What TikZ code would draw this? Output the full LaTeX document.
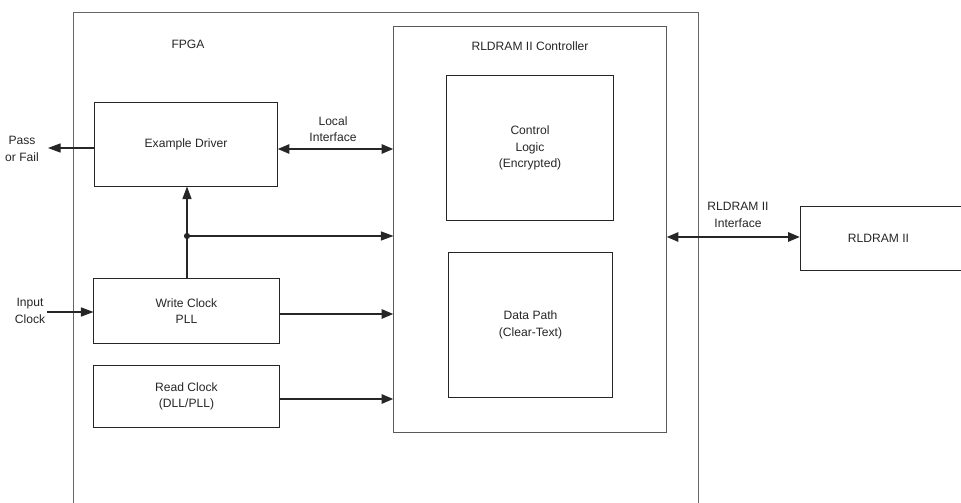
\documentclass[tikz,border=0pt]{standalone}
\usepackage{fontspec}
\setmainfont{Liberation Sans}
\usepackage{tikz}
\usetikzlibrary{arrows.meta, positioning}

\tikzset{
  blk/.style={draw=black!85, line width=0.7pt, align=center, inner sep=0pt},
  lbl/.style={align=center, inner sep=1pt, text=black!85},
  thin/.style={line width=0.8pt, draw=black!85, -{Triangle[length=9pt,width=6.5pt]}},
  fat/.style={line width=1.8pt, draw=black!85, -{Triangle[length=8.5pt,width=6.5pt]}},
  fatboth/.style={line width=1.8pt, draw=black!85, {Triangle[length=8.5pt,width=6.5pt]}-{Triangle[length=8.5pt,width=6.5pt]}}
}

\begin{document}
\begin{tikzpicture}[x=0.025cm, y=-0.025cm, font=\fontsize{8.6}{11.8}\selectfont, text=black!85]
\useasboundingbox (0,0) rectangle (961,503);

% FPGA (open at the bottom)
\draw[black!60, line width=0.7pt] (73,510) -- (73,12) -- (698,12) -- (698,510);
\node[lbl] (fpga) at (188,44) {FPGA};

% Controller
\node[blk, draw=black!65, minimum width=6.8cm, minimum height=10.125cm] (ctrl) at (530,229.5) {};
\node[lbl] (ctrltxt) at (530,46) {RLDRAM II Controller};
\node[blk, minimum width=4.15cm, minimum height=3.6cm] (logic) at (530,148) {Control\\Logic\\(Encrypted)};
\node[blk, minimum width=4.075cm, minimum height=3.6cm] (dpath) at (530.5,325) {Data Path\\(Clear-Text)};

% Left blocks
\node[blk, minimum width=4.55cm, minimum height=2.075cm] (drv) at (186,144.5) {Example Driver};
\node[blk, minimum width=4.625cm, minimum height=1.6cm] (wclk) at (186.5,311) {Write Clock\\PLL};
\node[blk, minimum width=4.625cm, minimum height=1.525cm] (rclk) at (186.5,396.5) {Read Clock\\(DLL/PLL)};

% Memory
\node[blk, minimum width=4.1cm, minimum height=1.575cm, anchor=west] (mem) at (800,238.5) {\hspace*{-0.1cm}RLDRAM II\hspace*{0.1cm}};

% Outside labels
\node[lbl] (pftxt) at (22,149) {Pass\\or Fail};
\node[lbl] (ictxt) at (30,311) {Input\\Clock};
\node[lbl] (litxt) at (333,129) {Local\\Interface};
\node[lbl] (ritxt) at (738,215) {RLDRAM II\\Interface};
\coordinate (pfend) at (48,148);
\coordinate (jn) at (187,236);

% Connections
\draw[thin] (drv.west |- pfend) -- (pfend);
\draw[thin] (ictxt.east |- 0,312) -- (wclk.west |- 0,312);
\draw[fatboth] (drv.east |- 0,149) -- (ctrl.west |- 0,149);
\draw[thin] (wclk.north -| jn) -- (drv.south -| jn);
\fill[black!85] (jn) circle (2.2pt);
\draw[thin] (jn) -- (ctrl.west |- jn);
\draw[fat] (wclk.east |- 0,314) -- (ctrl.west |- 0,314);
\draw[fat] (rclk.east |- 0,399) -- (ctrl.west |- 0,399);
\draw[fatboth] (ctrl.east |- 0,237) -- (mem.west |- 0,237);
\end{tikzpicture}
\end{document}
